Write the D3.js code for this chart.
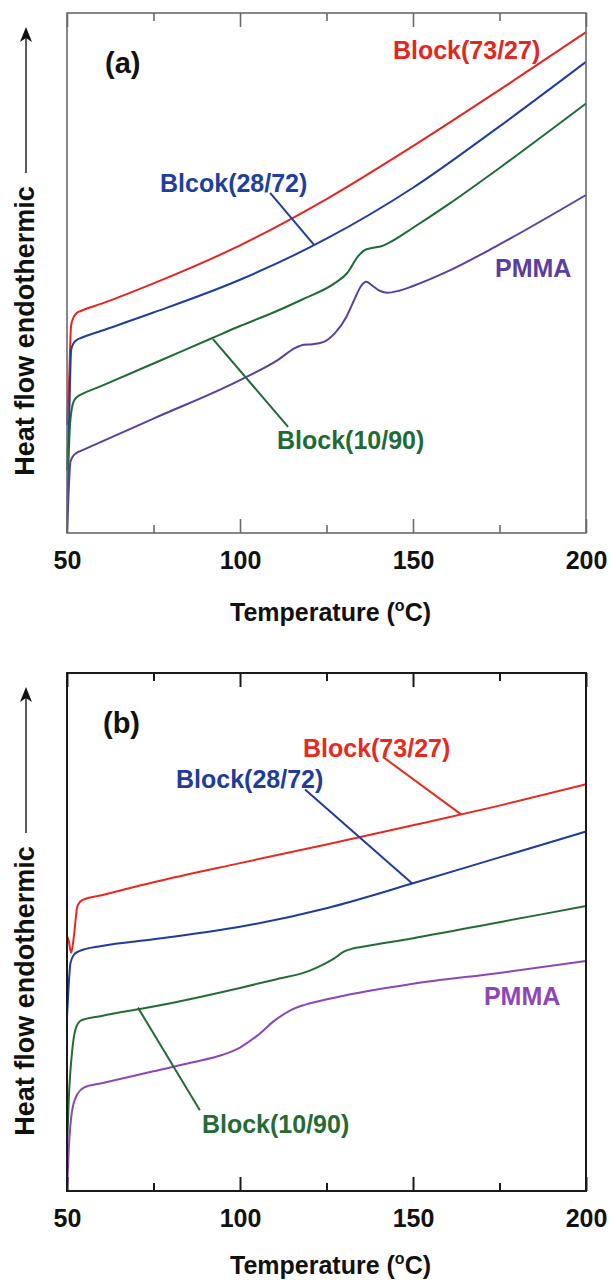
<!DOCTYPE html>
<html>
<head>
<meta charset="utf-8">
<script src="https://cdn.jsdelivr.net/npm/d3@7"></script>
<style>
  html, body { margin: 0; padding: 0; background: #fff; }
  svg { display: block; }
  text { font-family: "Liberation Sans", Arial, Helvetica, sans-serif; font-weight: bold; }
</style>
</head>
<body>
<svg id="chart" width="610" height="1280"></svg>
<script>
// ---------- axis ----------
const tempDomain = [50, 200];
const majorTicks = [50, 100, 150, 200];
const minorTicks = [75, 125, 175];
const heatDomain = [0, 100];          // heat flow, arbitrary units
const xTitle = "Temperature (";
const xTitleUnit = "C)";
const yTitle = "Heat flow endothermic";

// ---------- panel (a): first heating ----------
const aRedT = [50, 50.6, 51.2, 52, 53, 54, 60, 75, 100, 125, 150, 175, 200];
const aRedV = [20.8, 29.4, 40, 41.6, 42.4, 42.7, 44.1, 48.0, 55.3, 64.2, 74.4, 85.2, 96.3];

const aBlueT = [50, 50.6, 51.2, 52, 53, 54, 60, 75, 100, 125, 150, 175, 200];
const aBlueV = [12.1, 21.7, 35.2, 36.6, 37.2, 37.5, 38.9, 42.4, 48.7, 56.6, 66.4, 78.2, 90.6];

const aGreenT = [50, 50.3, 50.8, 51.5, 52, 53, 54, 60, 75, 92, 100, 110, 118, 127.5, 131, 134, 136, 138, 141, 143, 150, 160, 175, 190, 200];
const aGreenV = [0, 10, 20, 24.3, 25.4, 26.2, 26.6, 28.3, 32.6, 37.5, 39.8, 42.5, 44.9, 48.1, 50, 53.1, 54.4, 54.8, 55.2, 55.8, 58.7, 63.1, 70.2, 77.6, 82.6];

const aPmmaT = [50, 50.5, 51, 52, 53, 54, 75, 100, 111, 116, 118.5, 121, 124, 127.5, 130.7, 133, 135, 136.5, 138, 140, 142.5, 146, 150, 160, 175, 200];
const aPmmaV = [0, 8.3, 13.7, 15.0, 15.5, 15.8, 22.0, 29.4, 33.3, 35.6, 36.2, 36.3, 36.7, 38.5, 41.5, 44.8, 47.5, 48.3, 47.7, 46.7, 46.2, 46.6, 47.5, 50.3, 55.5, 65];

// ---------- panel (b): second heating ----------
const bRedT = [50, 50.5, 51.2, 52, 53, 54.5, 60, 75, 100, 125, 150, 175, 200];
const bRedV = [49.2, 48.3, 46, 49.2, 55, 56.2, 57.1, 59.6, 63.3, 66.9, 70.6, 74.4, 78.5];

const bBlueT = [50, 50.4, 51, 52, 53.5, 60, 75, 100, 125, 150, 175, 200];
const bBlueV = [33.5, 38.7, 44, 45.6, 46.3, 47.3, 48.6, 51, 54.6, 59.4, 64.4, 69.4];

const bGreenT = [50, 50.5, 51.5, 52.5, 54, 60, 75, 100, 110, 120, 124, 127, 130, 132, 135, 150, 175, 200];
const bGreenV = [7.9, 17.5, 27.1, 31.3, 32.9, 33.8, 35.6, 39.2, 40.8, 42.5, 43.7, 44.8, 46.2, 46.7, 47.1, 48.8, 51.9, 55];

const bPmmaT = [50, 50.5, 51.5, 53, 55, 60, 75, 86, 95, 100, 105, 110, 115, 118, 120, 130, 150, 175, 200];
const bPmmaV = [0, 7.9, 15.6, 18.7, 20, 20.8, 23.1, 24.8, 26.3, 27.7, 30, 32.9, 35, 35.8, 36.2, 37.7, 40, 42.1, 44.4];

// ---------- labels and leader lines (data coordinates) ----------
const aLabels = [
  { text: "Block(73/27)", t: 144.2, v: 92.9, key: "red" },
  { text: "Blcok(28/72)", t: 76.9, v: 67.3, key: "blue" },
  { text: "PMMA", t: 173.7, v: 51, key: "pmma" },
  { text: "Block(10/90)", t: 110.7, v: 17.9, key: "green" }
];
const aLeaders = [
  { key: "blue", t0: 108.7, v0: 65.4, t1: 121.4, v1: 55.4 },
  { key: "green", t0: 92.2, v0: 37.3, t1: 113.9, v1: 20.4 }
];
const bLabels = [
  { text: "Block(73/27)", t: 118.2, v: 85.6, key: "red" },
  { text: "Block(28/72)", t: 81.5, v: 79.6, key: "blue" },
  { text: "PMMA", t: 170.5, v: 37.7, key: "pmma" },
  { text: "Block(10/90)", t: 89, v: 12.9, key: "green" }
];
const bLeaders = [
  { key: "red", t0: 141.3, v0: 83.8, t1: 163.9, v1: 72.7 },
  { key: "blue", t0: 118.8, v0: 77.5, t1: 149.7, v1: 59.4 },
  { key: "green", t0: 70.5, v0: 35.4, t1: 88.4, v1: 15.6 }
];

const zip = (ts, vs) => ts.map((t, i) => ({ t, v: vs[i] }));

const panels = [
  {
    tag: "(a)", tagPos: { t: 61, v: 90.4 },
    top: 13, bottom: 533, titleGap: 88, frame: "#6a6a6a", frameW: 1.6,
    colors: { red: "#e3261f", blue: "#1e3f9e", green: "#1f6b35", pmma: "#5a3ea0" },
    series: [
      { key: "red", data: zip(aRedT, aRedV) },
      { key: "blue", data: zip(aBlueT, aBlueV) },
      { key: "green", data: zip(aGreenT, aGreenV) },
      { key: "pmma", data: zip(aPmmaT, aPmmaV) }
    ],
    labels: aLabels, leaders: aLeaders
  },
  {
    tag: "(b)", tagPos: { t: 60.4, v: 90.4 },
    top: 673, bottom: 1191, titleGap: 83, frame: "#1a1a1a", frameW: 2,
    colors: { red: "#e52b21", blue: "#1f3c9a", green: "#246b35", pmma: "#8c46b8" },
    series: [
      { key: "red", data: zip(bRedT, bRedV) },
      { key: "blue", data: zip(bBlueT, bBlueV) },
      { key: "green", data: zip(bGreenT, bGreenV) },
      { key: "pmma", data: zip(bPmmaT, bPmmaV) }
    ],
    labels: bLabels, leaders: bLeaders
  }
];

const left = 67, right = 586;
const svg = d3.select("#chart");

panels.forEach(p => {
  const x = d3.scaleLinear().domain(tempDomain).range([left, right]);
  const y = d3.scaleLinear().domain(heatDomain).range([p.bottom, p.top]);
  const g = svg.append("g");

  // curves
  const line = d3.line().x(d => x(d.t)).y(d => y(d.v)).curve(d3.curveMonotoneX);
  g.selectAll("path.curve").data(p.series).join("path")
    .attr("class", "curve")
    .attr("d", s => line(s.data))
    .attr("fill", "none")
    .attr("stroke", s => p.colors[s.key])
    .attr("stroke-width", 2)
    .attr("stroke-linejoin", "round");

  // leader lines
  g.selectAll("line.leader").data(p.leaders).join("line")
    .attr("class", "leader")
    .attr("x1", d => x(d.t0)).attr("y1", d => y(d.v0))
    .attr("x2", d => x(d.t1)).attr("y2", d => y(d.v1))
    .attr("stroke", d => p.colors[d.key])
    .attr("stroke-width", 2);

  // series labels
  g.selectAll("text.lab").data(p.labels).join("text")
    .attr("class", "lab")
    .attr("x", d => x(d.t)).attr("y", d => y(d.v))
    .attr("dominant-baseline", "central")
    .attr("font-size", 25)
    .attr("fill", d => p.colors[d.key])
    .text(d => d.text);

  // panel tag
  g.append("text")
    .attr("x", x(p.tagPos.t)).attr("y", y(p.tagPos.v))
    .attr("dominant-baseline", "central")
    .attr("font-size", 29)
    .attr("fill", "#111")
    .text(p.tag);

  // inward ticks, top and bottom
  const bottomMajor = d3.axisBottom(x).tickValues(majorTicks).tickSize(-14).tickPadding(18).tickFormat(d3.format("d"));
  const bottomMinor = d3.axisBottom(x).tickValues(minorTicks).tickSize(-8).tickFormat("");
  const topMajor = d3.axisTop(x).tickValues(majorTicks).tickSize(-14).tickFormat("");
  const topMinor = d3.axisTop(x).tickValues(minorTicks).tickSize(-8).tickFormat("");

  [[bottomMajor, p.bottom], [bottomMinor, p.bottom], [topMajor, p.top], [topMinor, p.top]].forEach(([ax, yy]) => {
    const a = g.append("g").attr("transform", `translate(0,${yy})`).call(ax);
    a.select(".domain").remove();
    a.selectAll(".tick line").attr("stroke", p.frame).attr("stroke-width", p.frameW);
    a.selectAll(".tick text")
      .attr("font-size", 25)
      .attr("font-family", "\"Liberation Sans\", Arial, sans-serif")
      .attr("font-weight", "bold")
      .attr("fill", "#111");
  });

  // frame
  g.append("rect")
    .attr("x", left).attr("y", p.top)
    .attr("width", right - left).attr("height", p.bottom - p.top)
    .attr("fill", "none")
    .attr("stroke", p.frame)
    .attr("stroke-width", p.frameW);

  // x title with superscript "o" for degrees
  const xt = g.append("text")
    .attr("x", (left + right) / 2 + 4).attr("y", p.bottom + p.titleGap)
    .attr("text-anchor", "middle")
    .attr("font-size", 25)
    .attr("fill", "#111");
  xt.append("tspan").text(xTitle);
  xt.append("tspan").attr("font-size", 16).attr("dy", -10).text("o");
  xt.append("tspan").attr("dy", 10).text(xTitleUnit);

  // y title with upward arrow
  const yCenter = p.top + 318;
  g.append("text")
    .attr("transform", `translate(25,${yCenter}) rotate(-90)`)
    .attr("text-anchor", "middle")
    .attr("dominant-baseline", "central")
    .attr("font-size", 27)
    .attr("fill", "#111")
    .text(yTitle);
  const ax0 = 26, tip = p.top + 14, tail = p.top + 160;
  g.append("line")
    .attr("x1", ax0).attr("y1", tail)
    .attr("x2", ax0).attr("y2", tip + 8)
    .attr("stroke", "#333")
    .attr("stroke-width", 1.6);
  g.append("path")
    .attr("d", `M${ax0},${tip} L${ax0 + 6},${tip + 15} L${ax0},${tip + 11} L${ax0 - 6},${tip + 15} Z`)
    .attr("fill", "#111");
});
</script>
</body>
</html>
